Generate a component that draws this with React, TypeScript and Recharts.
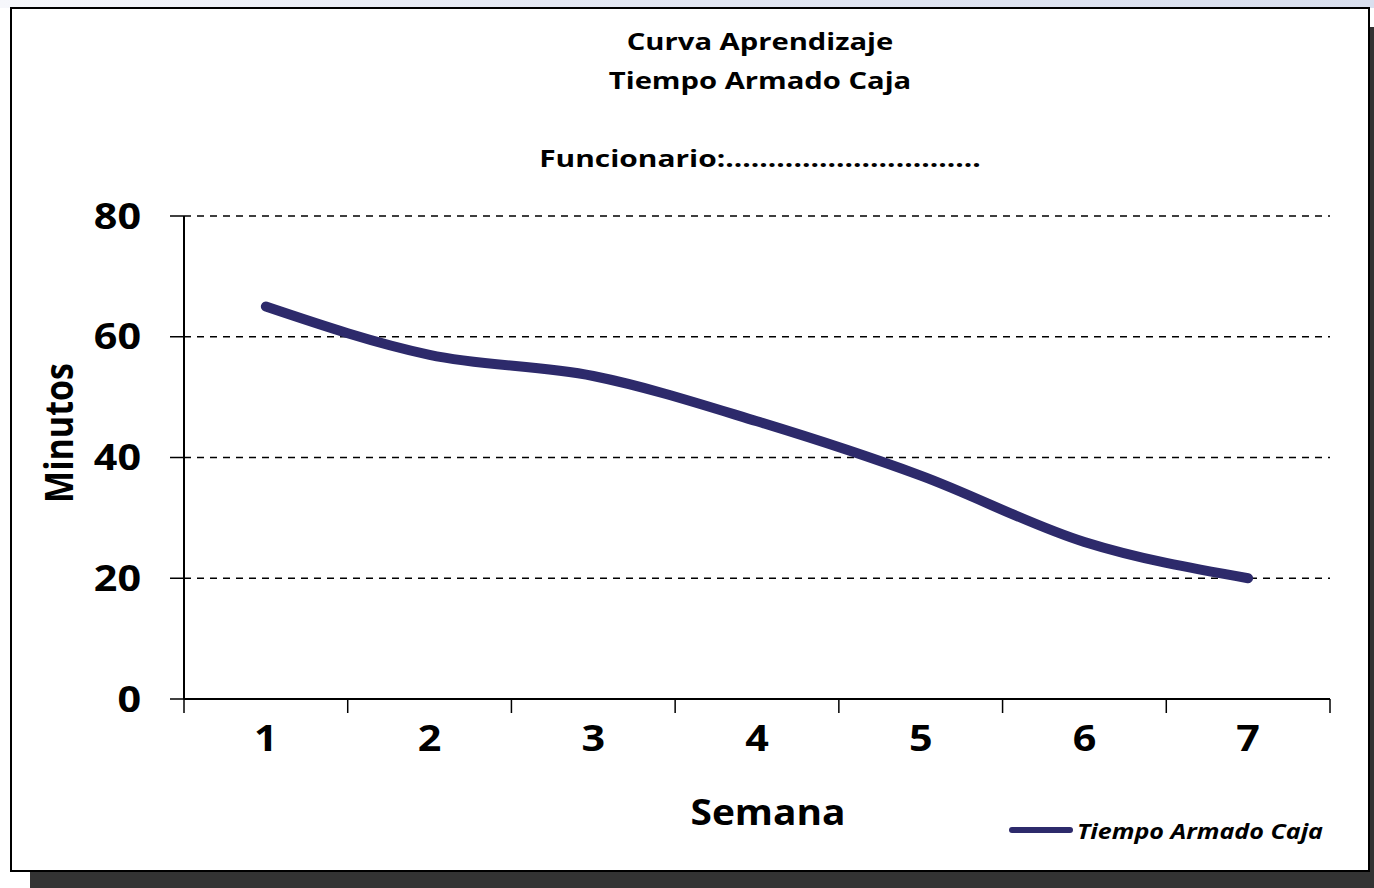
import React from 'react';
import { LineChart, Line, XAxis, YAxis, CartesianGrid, Legend } from 'recharts';

const weeks = [1, 2, 3, 4, 5, 6, 7];
const tiempo = [65, 57, 53.5, 46, 37, 26, 20];
const yTicks = [0, 20, 40, 60, 80];
const titleLines = ['Curva Aprendizaje', 'Tiempo Armado Caja'];
const funcionarioLabel = 'Funcionario:' + '.'.repeat(30);
const seriesName = 'Tiempo Armado Caja';
const xTitle = 'Semana';
const yTitle = 'Minutos';

const data = weeks.map((w, i) => ({ semana: w, tiempo: tiempo[i] }));
const boundaries = [...weeks.map((w) => w - 0.5), weeks[weeks.length - 1] + 0.5];
const xTicks = [...boundaries, ...weeks].sort((a, b) => a - b);

const FONT = "'Open Sans', sans-serif";
const LINE_COLOR = '#2D2A6B';

const YTick = (props: any) => {
  const { x, y, payload } = props;
  return (
    <g transform={`translate(${x},${y}) scale(1.18,1)`}>
      <text x={0} y={0} dy="0.357em" textAnchor="end" fontFamily={FONT} fontWeight={700} fontSize={35} fill="#000">
        {payload.value}
      </text>
    </g>
  );
};

const XTick = (props: any) => {
  const { x, y, payload } = props;
  const v = payload.value;
  if (!Number.isInteger(v)) {
    return <line x1={x} y1={y} x2={x} y2={y + 14} stroke="#000" strokeWidth={1.5} />;
  }
  return (
    <g transform={`translate(${x},${y + 52}) scale(1.18,1)`}>
      <text x={0} y={0} textAnchor="middle" fontFamily={FONT} fontWeight={700} fontSize={35} fill="#000">
        {v}
      </text>
    </g>
  );
};

const LegendContent = (props: any) => {
  const item = props.payload && props.payload[0];
  const color = item ? item.color : LINE_COLOR;
  const name = item ? item.value : seriesName;
  return (
    <svg width={340} height={40} style={{ display: 'block' }}>
      <line x1={12} y1={18} x2={70} y2={18} stroke={color} strokeWidth={6} strokeLinecap="round" />
      <g transform="translate(77,27) scale(1.14,1)">
        <text x={0} y={0} fontFamily={FONT} fontWeight={700} fontStyle="italic" fontSize={22} fill="#000">
          {name}
        </text>
      </g>
    </svg>
  );
};

export default function App() {
  return (
    <div style={{ position: 'absolute', left: 0, top: 0, width: 1374, height: 888, background: '#fff', overflow: 'hidden' }}>
      <div style={{ position: 'absolute', left: 0, top: 0, width: 1374, height: 8, background: 'linear-gradient(to right, #f6f7fb, #e4e8f3 40%, #d9dfee 100%)' }} />
      <div style={{ position: 'absolute', left: 30, top: 871, width: 1344, height: 17, background: '#333' }} />
      <div style={{ position: 'absolute', left: 1369, top: 27, width: 5, height: 861, background: '#333' }} />
      <div style={{ position: 'absolute', left: 10, top: 7, width: 1360, height: 865, boxSizing: 'border-box', border: '2px solid #000', background: '#fff' }} />
      <div style={{ position: 'absolute', left: 0, top: 0 }}>
        <LineChart width={1374} height={888} data={data} margin={{ top: 216, left: 84, right: 44, bottom: 115 }}>
          <CartesianGrid vertical={false} stroke="#000" strokeWidth={1.3} strokeDasharray="7 6" />
          <XAxis
            type="number"
            dataKey="semana"
            domain={[boundaries[0], boundaries[boundaries.length - 1]]}
            ticks={xTicks}
            interval={0}
            tickLine={false}
            tickSize={0}
            tickMargin={0}
            height={74}
            axisLine={{ stroke: '#000', strokeWidth: 2 }}
            tick={<XTick />}
          />
          <YAxis
            type="number"
            domain={[0, 80]}
            ticks={yTicks}
            interval={0}
            width={100}
            tickSize={14}
            tickMargin={29}
            axisLine={{ stroke: '#000', strokeWidth: 2 }}
            tickLine={{ stroke: '#000', strokeWidth: 1.5 }}
            tick={<YTick />}
          />
          <Legend
            layout="horizontal"
            verticalAlign="middle"
            align="center"
            content={<LegendContent />}
            wrapperStyle={{ position: 'absolute', left: 1000, top: 812, width: 340, height: 40 }}
          />
          <Line
            type="monotone"
            dataKey="tiempo"
            name={seriesName}
            stroke={LINE_COLOR}
            strokeWidth={10}
            strokeLinecap="round"
            dot={false}
            activeDot={false}
            isAnimationActive={false}
          />
        </LineChart>
      </div>
      <svg width={1374} height={888} style={{ position: 'absolute', left: 0, top: 0, pointerEvents: 'none' }}>
        <g fontFamily={FONT} fontWeight={700} fill="#000">
          <g transform="translate(760,50) scale(1.27,1)">
            <text x={0} y={0} textAnchor="middle" fontSize={23}>{titleLines[0]}</text>
          </g>
          <g transform="translate(760,89) scale(1.27,1)">
            <text x={0} y={0} textAnchor="middle" fontSize={23}>{titleLines[1]}</text>
          </g>
          <g transform="translate(760,167) scale(1.3,1)">
            <text x={0} y={0} textAnchor="middle" fontSize={23}>{funcionarioLabel}</text>
          </g>
          <g transform="translate(768,825) scale(1.08,1)">
            <text x={0} y={0} textAnchor="middle" fontSize={36}>{xTitle}</text>
          </g>
          <g transform="translate(73,433) scale(1.15,1) rotate(-90)">
            <text x={0} y={0} textAnchor="middle" fontSize={34}>{yTitle}</text>
          </g>
        </g>
      </svg>
    </div>
  );
}
